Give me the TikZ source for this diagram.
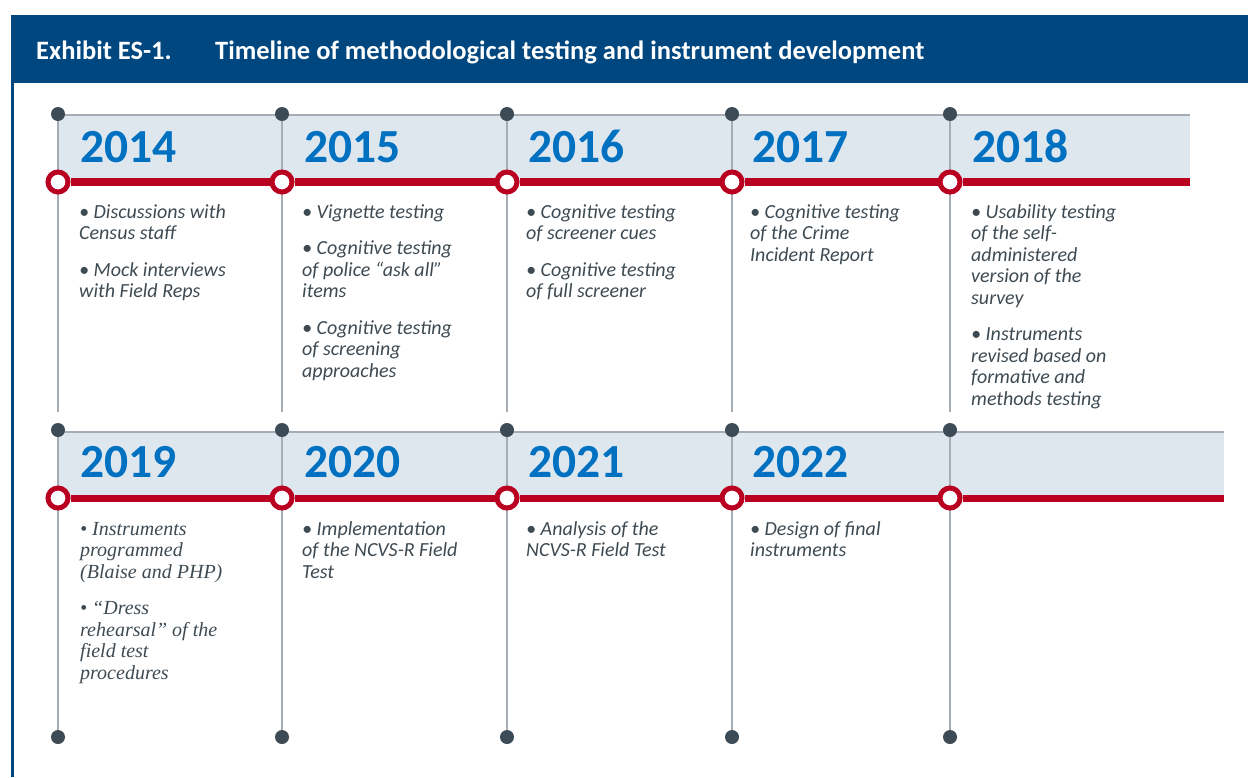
\documentclass[tikz,border=0pt]{standalone}
\usepackage{fontspec}
\setmainfont{Carlito}
\newfontfamily\serifitem{Liberation Serif}
\definecolor{hdrblue}{RGB}{0,71,127}
\definecolor{yearblue}{RGB}{0,112,192}
\definecolor{bandblue}{RGB}{222,230,238}
\definecolor{linegray}{RGB}{165,172,180}
\definecolor{tlred}{RGB}{186,0,32}
\definecolor{dotgray}{RGB}{60,75,85}
\definecolor{itemgray}{RGB}{62,74,82}
% fixed height of the first line, so that all item blocks start alike
\newcommand\itemstrut{\rule{0pt}{16pt}}

\begin{document}
\begin{tikzpicture}[x=1pt,y=-1pt,
    dot/.style={circle,fill=dotgray,inner sep=0pt,minimum size=14pt},
    ring/.style={circle,draw=tlred,fill=white,line width=5pt,inner sep=0pt,minimum size=20pt},
    year/.style={anchor=base west,inner sep=0pt,text=yearblue,font=\fontsize{47.5}{47.5}\selectfont\bfseries},
    item/.style={anchor=north west,inner sep=0pt,align=left,text=itemgray,font=\fontsize{20}{21.5}\selectfont\itshape},
    head/.style={anchor=base west,inner sep=0pt,text=white,font=\fontsize{26.5}{26.5}\selectfont\bfseries},
    vline/.style={draw=linegray,line width=1.6pt}]
  \useasboundingbox (0,0) rectangle (1248,777);
  % header band
  \fill[hdrblue] (11,15) rectangle (1248,83);
  \draw[hdrblue,line width=3pt] (12.5,83) -- (12.5,777);
  \node[head] (exh) at (36,59) {Exhibit ES-1.};
  \node[head] (ttl) at (215,59) {Timeline of methodological testing and instrument development};

  % top row
  \fill[bandblue] (58,115) rectangle (1190,182);
  \draw[linegray,line width=2pt] (58,115) -- (1190,115);
  \coordinate (k1) at (1190,182);
  \foreach \i/\x in {1/58,2/282,3/507,4/732,5/950}{
    \coordinate (e\i) at (\x,412);
    \node[dot] (d\i) at (\x,114) {};
    \draw[vline] (d\i) -- (e\i);
    \node[ring] (r\i) at (\x,182) {};
  }
  \draw[tlred,line width=8pt] (r1) -- (r2) (r2) -- (r3) (r3) -- (r4) (r4) -- (r5) (r5) -- (k1);

  % bottom row
  \fill[bandblue] (58,432) rectangle (1224,498);
  \draw[linegray,line width=2pt] (58,432) -- (1224,432);
  \coordinate (k2) at (1224,498);
  \foreach \i/\x in {6/58,7/282,8/507,9/732,10/950}{
    \node[dot] (d\i) at (\x,430) {};
    \node[dot] (b\i) at (\x,737) {};
    \draw[vline] (d\i) -- (b\i);
    \node[ring] (r\i) at (\x,498) {};
  }
  \draw[tlred,line width=7pt] (r6) -- (r7) (r7) -- (r8) (r8) -- (r9) (r9) -- (r10) (r10) -- (k2);

  % years
  \node[year] (y1) at (80,162) {2014};
  \node[year] (y2) at (304,162) {2015};
  \node[year] (y3) at (528,162) {2016};
  \node[year] (y4) at (752,162) {2017};
  \node[year] (y5) at (972,162) {2018};
  \node[year] (y6) at (80,477) {2019};
  \node[year] (y7) at (304,477) {2020};
  \node[year] (y8) at (528,477) {2021};
  \node[year] (y9) at (752,477) {2022};

  % items
  \node[item] (n1) at (79,202) {\itemstrut• Discussions with\\Census staff\\[15pt]• Mock interviews\\with Field Reps};
  \node[item] (n2) at (302,202) {\itemstrut• Vignette testing\\[15pt]• Cognitive testing\\of police “ask all”\\items\\[15pt]• Cognitive testing\\of screening\\approaches};
  \node[item] (n3) at (526,202) {\itemstrut• Cognitive testing\\of screener cues\\[15pt]• Cognitive testing\\of full screener};
  \node[item] (n4) at (750,202) {\itemstrut• Cognitive testing\\of the Crime\\Incident Report};
  \node[item] (n5) at (971,202) {\itemstrut• Usability testing\\of the self-\\administered\\version of the\\survey\\[15pt]• Instruments\\revised based on\\formative and\\methods testing};
  \node[item,font=\fontsize{20}{21.5}\selectfont\serifitem\itshape] (n6) at (80,519) {\itemstrut• Instruments\\programmed\\(Blaise and PHP)\\[15pt]• “Dress\\rehearsal” of the\\field test\\procedures};
  \node[item] (n7) at (302,519) {\itemstrut• Implementation\\of the NCVS-R Field\\Test};
  \node[item] (n8) at (526,519) {\itemstrut• Analysis of the\\NCVS-R Field Test};
  \node[item] (n9) at (750,519) {\itemstrut• Design of final\\instruments};
\end{tikzpicture}
\end{document}
